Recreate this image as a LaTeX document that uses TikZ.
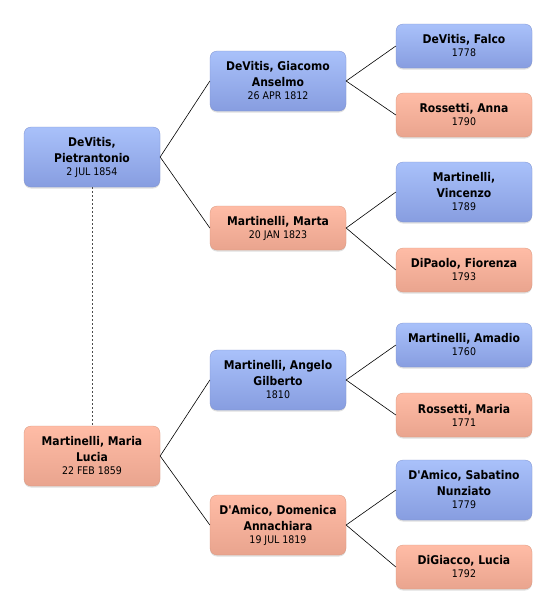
\documentclass[tikz,border=0pt]{standalone}
\usepackage{fontspec}
\setmainfont{DejaVu Sans Condensed}[Ligatures=TeXOff]
\usetikzlibrary{shadows}
\definecolor{btop}{HTML}{A9C1FA}
\definecolor{bbot}{HTML}{879DE0}
\definecolor{stop}{HTML}{FFBCA6}
\definecolor{sbot}{HTML}{E9A48E}
\definecolor{bedge}{HTML}{7F92CF}
\definecolor{sedge}{HTML}{D9987F}
\tikzset{
  person/.style={rounded corners=7pt, minimum width=136pt, align=center,
    inner sep=2pt, font=\fontsize{10.5}{16}\selectfont,
    drop shadow={opacity=0.25, shadow xshift=0pt, shadow yshift=-1.5pt}},
  tall/.style={minimum height=60pt},
  short/.style={minimum height=44pt},
  male/.style={person, top color=btop, bottom color=bbot, draw=bedge, line width=0.3pt},
  female/.style={person, top color=stop, bottom color=sbot, draw=sedge, line width=0.3pt},
  link/.style={draw=black, line width=0.6pt},
}
\newcommand{\nm}[1]{{\bfseries\fontsize{12}{16}\selectfont #1}}
\newcommand{\dt}[1]{{\fontsize{10.5}{16}\selectfont #1}}
\begin{document}
\begin{tikzpicture}[x=1pt,y=-1pt]
\useasboundingbox (0,0) rectangle (556,614);
\node[male,tall] (p1) at (92,157) {\nm{DeVitis,}\\\nm{Pietrantonio}\\[-3pt]\dt{2 JUL 1854}};
\node[female,tall] (p2) at (92,456) {\nm{Martinelli, Maria}\\\nm{Lucia}\\[-3pt]\dt{22 FEB 1859}};
\node[male,tall] (g1) at (278,81) {\nm{DeVitis, Giacomo}\\\nm{Anselmo}\\[-3pt]\dt{26 APR 1812}};
\node[female,short] (g2) at (278,228) {\nm{Martinelli, Marta}\\[-3pt]\dt{20 JAN 1823}};
\node[male,tall] (g3) at (278,380) {\nm{Martinelli, Angelo}\\\nm{Gilberto}\\[-3pt]\dt{1810}};
\node[female,tall] (g4) at (278,525) {\nm{D'Amico, Domenica}\\\nm{Annachiara}\\[-3pt]\dt{19 JUL 1819}};
\node[male,short] (a1) at (464,46) {\nm{DeVitis, Falco}\\[-3pt]\dt{1778}};
\node[female,short] (a2) at (464,115) {\nm{Rossetti, Anna}\\[-3pt]\dt{1790}};
\node[male,tall] (a3) at (464,192) {\nm{Martinelli,}\\\nm{Vincenzo}\\[-3pt]\dt{1789}};
\node[female,short] (a4) at (464,270) {\nm{DiPaolo, Fiorenza}\\[-3pt]\dt{1793}};
\node[male,short] (a5) at (464,345) {\nm{Martinelli, Amadio}\\[-3pt]\dt{1760}};
\node[female,short] (a6) at (464,415) {\nm{Rossetti, Maria}\\[-3pt]\dt{1771}};
\node[male,tall] (a7) at (464,490) {\nm{D'Amico, Sabatino}\\\nm{Nunziato}\\[-3pt]\dt{1779}};
\node[female,short] (a8) at (464,567) {\nm{DiGiacco, Lucia}\\[-3pt]\dt{1792}};
\draw[link] (p1.east) -- (g1.west);
\draw[link] (p1.east) -- (g2.west);
\draw[link] (p2.east) -- (g3.west);
\draw[link] (p2.east) -- (g4.west);
\draw[link] (g1.east) -- (a1.west);
\draw[link] (g1.east) -- (a2.west);
\draw[link] (g2.east) -- (a3.west);
\draw[link] (g2.east) -- (a4.west);
\draw[link] (g3.east) -- (a5.west);
\draw[link] (g3.east) -- (a6.west);
\draw[link] (g4.east) -- (a7.west);
\draw[link] (g4.east) -- (a8.west);
\draw[link, dash pattern=on 2pt off 2pt, draw=black!70] (p1.south) -- (p2.north);
\end{tikzpicture}
\end{document}
